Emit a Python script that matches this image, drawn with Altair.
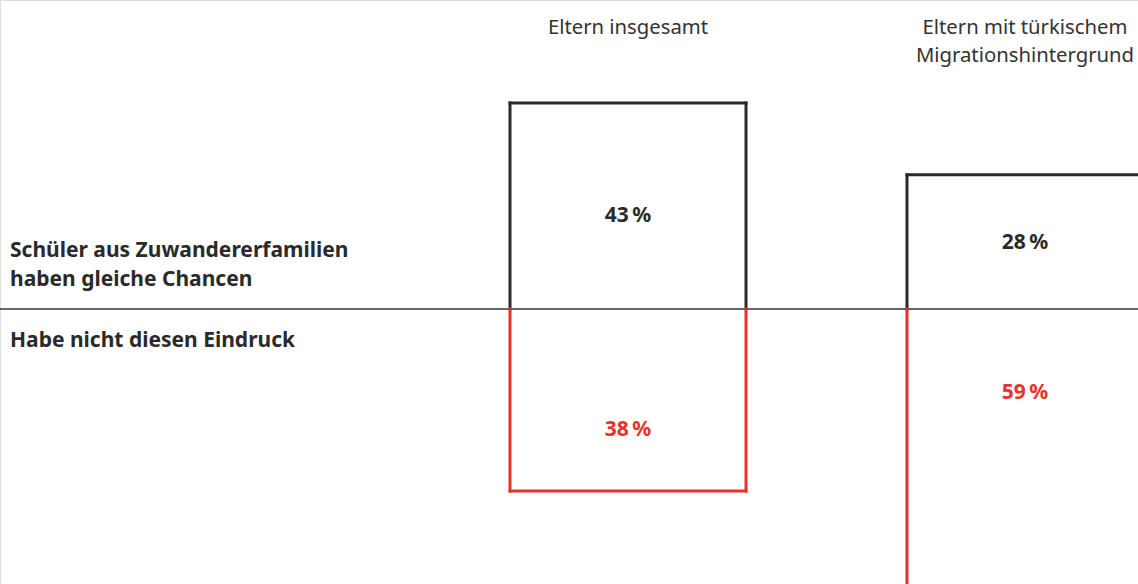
import altair as alt
import pandas as pd

# ---- data ----
groups = ["Eltern insgesamt", "Eltern mit türkischem Migrationshintergrund"]
header_text = ["Eltern insgesamt", "Eltern mit türkischem\nMigrationshintergrund"]
agree = [43, 28]          # "Schüler aus Zuwandererfamilien haben gleiche Chancen"
disagree = [38, 59]       # "Habe nicht diesen Eindruck"
agree_label_at = [19.5, 13.8]     # where the % labels sit (in % units)
disagree_label_at = [-25.3, -17.5]
row_top = "Schüler aus Zuwandererfamilien\nhaben gleiche Chancen"
row_bottom = "Habe nicht diesen Eindruck"

BLACK = "#2a2a2a"
RED = "#e8322a"
FONT = "Noto Sans"

rows = []
for g, a, d, la, ld in zip(groups, agree, disagree, agree_label_at, disagree_label_at):
    rows.append(dict(group=g, side="agree", value=a, zero=0, label=f"{a}\u2009%", label_at=la))
    rows.append(dict(group=g, side="disagree", value=-d, zero=0, label=f"{d}\u2009%", label_at=ld))
df = pd.DataFrame(rows)
hdr = pd.DataFrame(dict(group=groups, header=header_text))
rowlab = pd.DataFrame(dict(t=[row_top, row_bottom], pos=["top", "bottom"], zero=[0, 0]))

xscale = alt.Scale(domain=groups, range=[510, 1143], paddingInner=0.4055, paddingOuter=0)
yscale = alt.Scale(domain=[-57.4, 64.5], nice=False, zero=False)
cscale = alt.Scale(domain=["agree", "disagree"], range=[BLACK, RED])

base = alt.Chart(df)

baseline = alt.Chart(rowlab).transform_filter("datum.pos == 'top'").mark_rule(
    color="#333333", strokeWidth=1.3
).encode(y=alt.Y("zero:Q", scale=yscale, axis=None), x=alt.value(0), x2=alt.value(1138))

left_edge = base.mark_rule(strokeWidth=3, strokeCap="square", clip=True).encode(
    x=alt.X("group:N", scale=xscale, bandPosition=0, axis=None),
    y=alt.Y("value:Q", scale=yscale, axis=None),
    y2="zero:Q",
    color=alt.Color("side:N", scale=cscale, legend=None),
)
right_edge = base.mark_rule(strokeWidth=3, strokeCap="square", clip=True).encode(
    x=alt.X("group:N", scale=xscale, bandPosition=1, axis=None),
    y=alt.Y("value:Q", scale=yscale, axis=None),
    y2="zero:Q",
    color=alt.Color("side:N", scale=cscale, legend=None),
)
end_edge = base.mark_rule(strokeWidth=3, strokeCap="square", clip=True).encode(
    x=alt.X("group:N", scale=xscale, bandPosition=0, axis=None),
    x2=alt.X2("group:N", bandPosition=1),
    y=alt.Y("value:Q", scale=yscale, axis=None),
    color=alt.Color("side:N", scale=cscale, legend=None),
)

labels = base.mark_text(font=FONT, fontWeight="bold", fontSize=21, baseline="middle", align="center").encode(
    x=alt.X("group:N", scale=xscale, axis=None),
    y=alt.Y("label_at:Q", scale=yscale, axis=None),
    text="label:N",
    color=alt.Color("side:N", scale=cscale, legend=None),
)

headers = alt.Chart(hdr).mark_text(
    font=FONT, fontSize=20.3, baseline="middle", align="center", lineBreak="\n",
    lineHeight=28.5, color="#333333"
).encode(
    x=alt.X("group:N", scale=xscale, axis=None),
    y=alt.value(27.5),
    text="header:N",
)

row_labels_top = alt.Chart(rowlab).transform_filter("datum.pos == 'top'").mark_text(
    font=FONT, fontWeight="bold", fontSize=21, baseline="middle", align="left",
    lineBreak="\n", lineHeight=29, color=BLACK, dy=-58
).encode(x=alt.value(10), y=alt.Y("zero:Q", scale=yscale, axis=None), text="t:N")

row_labels_bottom = alt.Chart(rowlab).transform_filter("datum.pos == 'bottom'").mark_text(
    font=FONT, fontWeight="bold", fontSize=21, baseline="middle", align="left",
    color=BLACK, dy=32
).encode(x=alt.value(10), y=alt.Y("zero:Q", scale=yscale, axis=None), text="t:N")

chart = alt.layer(
    baseline, left_edge, right_edge, end_edge, labels, headers, row_labels_top, row_labels_bottom
).properties(
    width=1138, height=584, padding=0,
    autosize=alt.AutoSizeParams(type="none"),
).configure_view(stroke=None).configure(background="white")

chart.save("out.html", embed_options={"renderer": "svg", "actions": False})
